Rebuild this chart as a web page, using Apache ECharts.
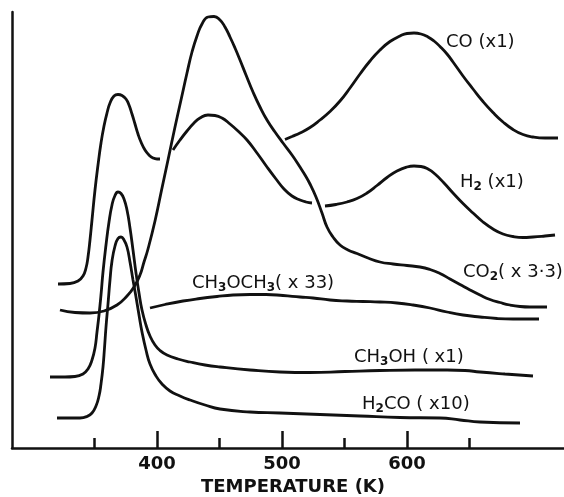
<!DOCTYPE html>
<html><head><meta charset="utf-8">
<script src="https://cdn.jsdelivr.net/npm/echarts@6/dist/echarts.min.js"></script>
<style>html,body{margin:0;padding:0;background:#fff}#c{width:564px;height:497px}</style>
</head><body><div id="c"></div>
<script>
// Temperature (K) vs. desorption intensity (arbitrary units, offset traces)
const majorTicks = [400, 500, 600];
const minorTicks = [350, 450, 550, 650];

const h2Part1 = [[320.8,164],[330.4,164.5],[336.8,167],[340.8,172],[343.2,180],[344.8,191],[346.4,208],[348.0,228],[350.4,258],[352.8,283],[355.2,305],[357.6,322],[360.0,335],[362.4,345],[365.6,352],[368.8,353.5],[372.0,352.5],[375.2,349],[377.6,343],[380.0,334],[382.4,324],[384.8,314],[387.2,306],[390.4,298],[393.6,293],[396.8,290],[400.0,289],[402.4,289]];
const h2Part2 = [[412.8,298],[418.4,308],[424.0,317],[429.6,325],[434.4,330],[440.8,333],[446.4,332.5],[452.0,330],[458.4,324],[464.8,317],[472.0,308],[480.0,295],[488.0,281],[495.2,269],[501.6,259],[508.0,252],[514.4,248],[519.2,246],[524.0,245]];
const h2Part3 = [[534.4,242],[543.2,243.5],[552.0,246],[560.0,249.5],[568.0,255],[576.0,262.5],[584.0,270.5],[592.0,277],[600.0,281],[605.6,282],[611.2,281.5],[616.8,279],[622.4,274],[629.6,265],[636.8,255],[644.8,244.5],[652.8,235],[660.8,226],[668.8,219],[676.8,214],[684.8,211.5],[692.8,210.5],[700.8,211],[710.4,212],[718.4,213]];
const coTrace = [[502.4,308.5],[508.0,311.5],[514.4,315],[522.4,320.5],[530.4,328],[538.4,336.5],[546.4,347],[554.4,360],[562.4,374],[570.4,387],[578.4,398],[586.4,406.5],[594.4,412],[600.0,414.5],[605.6,415],[611.2,414],[616.8,411],[621.6,407],[626.4,401.5],[632.0,394],[636.8,386],[644.8,372],[652.8,359],[660.8,346.5],[668.8,335.5],[676.8,326],[684.8,318.5],[692.8,313.5],[700.8,311],[710.4,310],[720.8,310]];
const co2Trace = [[322.4,138],[334.4,135.5],[346.4,135],[357.6,137],[368.0,143],[376.0,152],[381.6,161],[386.4,173],[389.6,186],[392.8,199],[398.4,227],[404.0,260],[408.8,288],[414.4,321],[419.2,348],[424.0,375],[428.0,396],[432.0,412],[436.0,424],[440.8,431],[445.6,431.5],[450.4,428],[454.4,421],[458.4,411],[462.4,400],[466.4,388],[471.2,373],[476.8,356],[482.4,341],[488.0,328],[494.4,316],[500.8,305],[508.0,293],[514.4,281],[518.4,273],[522.4,264],[527.2,251],[532.0,235],[536.0,221],[540.8,211],[546.4,203],[552.8,198],[560.0,194.5],[568.8,190],[578.4,186],[588.8,184],[600.0,182.5],[610.4,181],[618.4,178.5],[626.4,174.5],[634.4,169],[642.4,163.5],[650.4,158],[658.4,153],[666.4,148.5],[674.4,145.5],[682.4,143],[690.4,141.5],[698.4,141],[712.0,141]];
const dmeTrace = [[394.4,140],[406.4,143.5],[420.8,147],[434.4,149.5],[448.0,151.5],[460.8,153],[474.4,153.5],[487.2,153.5],[500.8,152.5],[514.4,151],[524.8,150],[538.4,148],[552.0,147],[564.8,146.5],[578.4,146],[592.0,145],[604.8,143],[618.4,140],[632.0,136],[644.8,133],[658.4,131],[672.0,129.5],[684.8,129],[705.6,129]];
const ch3ohTrace = [[314.4,71],[326.4,71],[334.4,71.5],[340.8,74],[344.8,79],[348.0,88],[350.4,100],[352.0,116],[353.6,133],[355.2,153],[356.8,176],[359.2,203],[361.6,226],[364.0,243],[366.4,252.5],[368.8,256],[371.2,254.5],[373.6,249],[376.0,238],[378.4,220],[380.8,198],[383.2,175],[385.6,155],[388.0,138],[391.2,123],[394.4,112],[398.4,103],[402.4,97.5],[408.0,93],[416.8,89],[426.4,86],[438.4,83],[450.4,81],[474.4,78],[498.4,76],[522.4,75.5],[550.4,76.5],[578.4,77.5],[606.4,78],[632.0,78],[646.4,77.5],[658.4,76],[678.4,74],[700.8,72]];
const h2coTrace = [[320.0,30],[330.4,30],[338.4,30],[344.0,31.5],[348.0,35],[351.2,42],[353.6,52],[355.2,64],[356.8,81],[358.0,100],[359.2,121],[360.8,144],[362.4,168],[364.0,187],[366.4,202],[368.8,209.5],[371.2,211],[373.6,208],[376.0,201],[378.4,186],[380.8,168],[383.2,151],[385.6,133],[388.0,116],[391.2,98],[394.4,84],[399.2,72],[404.0,64],[410.4,57],[418.4,52],[426.4,48],[438.4,43],[450.4,39],[474.4,36],[498.4,35],[530.4,33.5],[562.4,32],[594.4,30.5],[626.4,30],[642.4,28],[658.4,26],[690.4,25]];

const INK = '#111';
const FONT = 'DejaVu Sans';
function trace(name, data) {
  return { type: 'line', name, data, smooth: 0.5, showSymbol: false, silent: true,
    lineStyle: { color: INK, width: 2.8 }, xAxisIndex: 0, yAxisIndex: 0 };
}
const rich = {
  n: { fontFamily: FONT, fontSize: 18, color: INK, lineHeight: 24 },
  s: { fontFamily: FONT, fontSize: 12, fontWeight: 'bold', color: INK, lineHeight: 24, padding: [10, 0, 0, 0] }
};
function lbl(x, y, text) {
  return { type: 'text', x, y, silent: true,
    style: { text, rich, verticalAlign: 'middle', align: 'left', fill: INK } };
}

const chart = echarts.init(document.getElementById('c'), null, { renderer: 'canvas' });
chart.setOption({
  animation: false,
  backgroundColor: '#fff',
  grid: { left: 12, right: 0, top: 12, bottom: 49, containLabel: false, outerBoundsMode: 'none' },
  xAxis: [
    { type: 'value', min: 284, max: 725.6, position: 'bottom',
      axisLine: { show: true, onZero: false, lineStyle: { color: INK, width: 2.5 } },
      axisTick: { show: true, inside: true, length: 17, customValues: majorTicks, lineStyle: { color: INK, width: 2.5 } },
      axisLabel: { show: true, customValues: majorTicks, margin: 7, color: INK, fontFamily: FONT, fontSize: 18, fontWeight: 'bold' },
      splitLine: { show: false },
      name: 'TEMPERATURE (K)', nameLocation: 'middle', nameGap: 30,
      nameTextStyle: { color: INK, fontFamily: FONT, fontSize: 18, fontWeight: 'bold', padding: [0, 0, 0, 10] } },
    { type: 'value', min: 284, max: 725.6, position: 'bottom', gridIndex: 0,
      axisLine: { show: false },
      axisTick: { show: true, inside: true, length: 10, customValues: minorTicks, lineStyle: { color: INK, width: 2.5 } },
      axisLabel: { show: false }, splitLine: { show: false } }
  ],
  yAxis: { type: 'value', min: 0, max: 436,
    axisLine: { show: true, onZero: false, lineStyle: { color: INK, width: 2.5 } },
    axisTick: { show: false }, axisLabel: { show: false }, splitLine: { show: false } },
  series: [
    trace('H2', h2Part1), trace('H2', h2Part2), trace('H2', h2Part3),
    trace('CO', coTrace), trace('CO2', co2Trace), trace('CH3OCH3', dmeTrace),
    trace('CH3OH', ch3ohTrace), trace('H2CO', h2coTrace)
  ],
  graphic: [
    lbl(446, 42, '{n|CO (x1)}'),
    lbl(460, 182, '{n|H}{s|2}{n| (x1)}'),
    lbl(463, 272, '{n|CO}{s|2}{n|( x 3·3)}'),
    lbl(192, 283, '{n|CH}{s|3}{n|OCH}{s|3}{n|( x 33)}'),
    lbl(354, 357, '{n|CH}{s|3}{n|OH ( x1)}'),
    lbl(362, 404, '{n|H}{s|2}{n|CO ( x10)}')
  ]
});
</script></body></html>
